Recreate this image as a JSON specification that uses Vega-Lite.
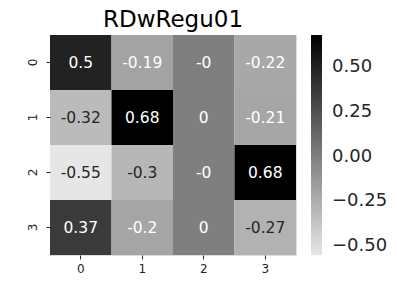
{
  "$schema": "https://vega.github.io/schema/vega-lite/v6.json",
  "width": 246,
  "height": 220,
  "autosize": {"type": "none"},
  "padding": {"left": 50, "top": 35, "right": 101, "bottom": 33},
  "background": "white",
  "title": {"text": "RDwRegu01", "fontSize": 23, "font": "DejaVu Sans", "fontWeight": "normal", "color": "#000000", "anchor": "middle", "offset": 3},
  "data": {"values": [
    {"row": "0", "col": "0", "value": 0.5, "label": "0.5"},
    {"row": "0", "col": "1", "value": -0.19, "label": "-0.19"},
    {"row": "0", "col": "2", "value": -0.0, "label": "-0"},
    {"row": "0", "col": "3", "value": -0.22, "label": "-0.22"},
    {"row": "1", "col": "0", "value": -0.32, "label": "-0.32"},
    {"row": "1", "col": "1", "value": 0.68, "label": "0.68"},
    {"row": "1", "col": "2", "value": 0.0, "label": "0"},
    {"row": "1", "col": "3", "value": -0.21, "label": "-0.21"},
    {"row": "2", "col": "0", "value": -0.55, "label": "-0.55"},
    {"row": "2", "col": "1", "value": -0.3, "label": "-0.3"},
    {"row": "2", "col": "2", "value": -0.0, "label": "-0"},
    {"row": "2", "col": "3", "value": 0.68, "label": "0.68"},
    {"row": "3", "col": "0", "value": 0.37, "label": "0.37"},
    {"row": "3", "col": "1", "value": -0.2, "label": "-0.2"},
    {"row": "3", "col": "2", "value": 0.0, "label": "0"},
    {"row": "3", "col": "3", "value": -0.27, "label": "-0.27"}
  ]},
  "encoding": {
    "x": {"field": "col", "type": "nominal", "scale": {"paddingInner": 0, "paddingOuter": 0},
      "axis": {"title": null, "labelAngle": 0, "domain": false, "tickSize": 4, "tickColor": "#262626", "labelFontSize": 12, "labelFont": "DejaVu Sans", "labelColor": "#262626", "labelPadding": 4}},
    "y": {"field": "row", "type": "nominal", "scale": {"paddingInner": 0, "paddingOuter": 0},
      "axis": {"title": null, "labelAngle": -90, "domain": false, "tickSize": 4, "tickColor": "#262626", "labelFontSize": 12, "labelFont": "DejaVu Sans", "labelColor": "#262626", "labelPadding": 7, "labelAlign": "center", "labelBaseline": "bottom"}}
  },
  "layer": [
    {
      "mark": {"type": "rect"},
      "encoding": {
        "color": {"field": "value", "type": "quantitative",
          "scale": {"domain": [-0.55, 0.68], "range": ["#e6e6e6", "#000000"], "interpolate": "rgb"},
          "legend": {"orient": "none", "legendX": 261, "legendY": 0, "direction": "vertical", "title": null,
            "gradientLength": 220, "gradientThickness": 11, "gradientStrokeWidth": 0,
            "values": [-0.5, -0.25, 0, 0.25, 0.5], "format": ".2f",
            "labelFontSize": 18, "labelFont": "DejaVu Sans", "labelColor": "#262626", "labelOffset": 10, "labelOverlap": false}}
      }
    },
    {
      "mark": {"type": "text", "fontSize": 15.5, "font": "DejaVu Sans"},
      "encoding": {
        "text": {"field": "label"},
        "color": {"condition": {"test": "datum.value > -0.25", "value": "#ffffff"}, "value": "#262626"}
      }
    }
  ]
}
